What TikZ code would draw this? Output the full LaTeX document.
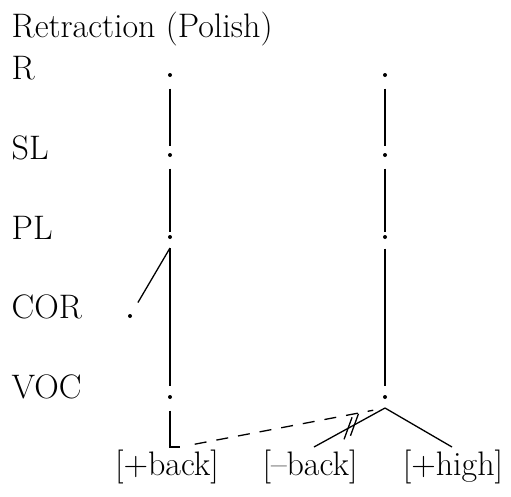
\documentclass[tikz,border=0pt]{standalone}
\begin{document}
\begin{tikzpicture}[x=1pt,y=-1pt,line width=1.3pt,
  every node/.style={font=\fontsize{34}{40}\selectfont},
  dot/.style={circle,fill,inner sep=0pt,minimum size=4pt},
  tierlabel/.style={anchor=base west,inner sep=0pt},
  feat/.style={anchor=base,inner sep=1pt}]
\useasboundingbox (0,0) rectangle (511,496);

% heading and tier names
\node[tierlabel] (title) at (11,37) {Retraction (Polish)};
\node[tierlabel] (tR) at (11,79) {R};
\node[tierlabel] (tSL) at (11,159) {SL};
\node[tierlabel] (tPL) at (11,239) {PL};
\node[tierlabel] (tCOR) at (11,318) {COR};
\node[tierlabel] (tVOC) at (11,398) {VOC};

% the two segments
\node[dot] (lR) at (170,75) {};
\node[dot] (lSL) at (170,155) {};
\node[dot] (lPL) at (170,237) {};
\node[dot] (lCOR) at (130,316) {};
\node[dot] (lVOC) at (170,397) {};
\node[dot] (rR) at (385,75) {};
\node[dot] (rSL) at (385,155) {};
\node[dot] (rPL) at (385,237) {};
\node[dot] (rVOC) at (385,397) {};

% features
\node[feat] (pback) at (167,475) {[+back]};
\node[feat] (mback) at (310,475) {[--back]};
\node[feat] (phigh) at (453,475) {[+high]};

\coordinate (lbend) at (170,248);
\coordinate (lfoot) at (180,447);
\coordinate (jct) at (385,408);

\foreach \s in {l,r}{
  \draw[shorten <=11pt,shorten >=6pt] (\s R) -- (\s SL);
  \draw[shorten <=11pt,shorten >=2pt] (\s SL) -- (\s PL);
}
\draw[shorten >=8pt] (lbend) -- (lVOC);
\draw[shorten >=13pt] (lbend) -- (lCOR);
\draw[shorten <=9pt,shorten >=8pt] (rPL) -- (rVOC);
\draw[shorten <=11pt] (lVOC) |- (lfoot);

% spreading of [+back] and delinking of [-back]
\draw[dashed,dash pattern=on 12pt off 10pt,shorten <=15pt,shorten >=12pt] (lfoot) -- (jct);
\draw (jct) -- (314,447) coordinate (mend)
  coordinate[pos=0.43] (cutA) coordinate[pos=0.52] (cutB);
\draw (jct) -- (452,447) coordinate (hend);
\draw (cutA) ++(4,-11) -- ++(-8,22);
\draw (cutB) ++(4,-11) -- ++(-8,22);
\end{tikzpicture}
\end{document}
